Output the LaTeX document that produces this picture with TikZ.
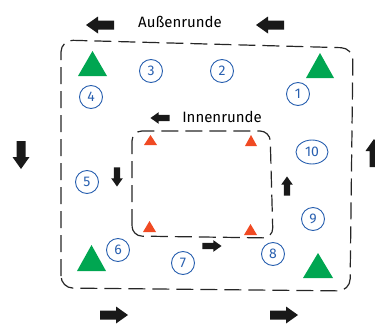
\documentclass[tikz,border=0pt]{standalone}
\usepackage{fontspec}
\setmainfont{Fira Sans}
\usetikzlibrary{shapes.geometric}
\definecolor{stblue}{RGB}{40,95,175}
\definecolor{stgreen}{RGB}{0,166,81}
\definecolor{stred}{RGB}{240,74,35}
\begin{document}
\begin{tikzpicture}[x=1pt,y=-1pt,
  route/.style={draw=black!85,line width=1.2pt,dash pattern=on 17pt off 7pt,rounded corners=12pt},
  bigtri/.style={fill=stgreen},
  smalltri/.style={fill=stred},
  num/.style={circle,draw=stblue,line width=0.9pt,text=stblue,minimum size=23pt,inner sep=0pt,font=\fontsize{14}{14}\selectfont},
  lbl/.style={font=\fontsize{15}{15}\selectfont,inner sep=0pt},
  barrow/.pic={\fill[black!90] (-14,-4.5) -- (2,-4.5) -- (2,-8.5) -- (14,0) -- (2,8.5) -- (2,4.5) -- (-14,4.5) -- cycle;}
]
\useasboundingbox (0,0) rectangle (375,324);
% routes
\draw[route] (61,288) -- (61,40) -- (353,48) -- (350,291) -- cycle;
\draw[route,rounded corners=10pt] (132,236) -- (132,131) -- (270,131) -- (273,238) -- cycle;
% green triangles
\fill[bigtri] (78,76) -- (107,76) -- (92.5,51) -- cycle;
\fill[bigtri] (306,78) -- (334,78) -- (320,53) -- cycle;
\fill[bigtri] (77,271) -- (106,271) -- (91.5,245) -- cycle;
\fill[bigtri] (303,278) -- (333,278) -- (318,253) -- cycle;
% red triangles
\fill[smalltri] (144,145) -- (157,145) -- (150.5,135) -- cycle;
\fill[smalltri] (245,146) -- (257,146) -- (251,135) -- cycle;
\fill[smalltri] (143,232) -- (156,232) -- (149.5,221) -- cycle;
\fill[smalltri] (244,235) -- (257,235) -- (250.5,224) -- cycle;
% numbered stations
\node[num] (n1) at (298,94) {1};
\node[num] (n2) at (222,71) {2};
\node[num] (n3) at (151,71) {3};
\node[num] (n4) at (91,97) {4};
\node[num] (n5) at (87,182) {5};
\node[num] (n6) at (118,250) {6};
\node[num] (n7) at (183,263) {7};
\node[num] (n8) at (273,254) {8};
\node[num] (n9) at (313,219) {9};
\node[num,ellipse,minimum width=32pt,minimum height=24pt] (n10) at (312,152) {10};
% labels
\node[lbl] (aussen) at (180,22) {Außenrunde};
\node[lbl] (innen) at (222,117) {Innenrunde};
% outer arrows
\pic[rotate=180] at (100,25) {barrow};
\pic[rotate=180] at (270,25) {barrow};
\pic[rotate=-90] at (21,155) {barrow};
\pic[rotate=90] at (374,153) {barrow};
\pic at (114,315) {barrow};
\pic at (284,315) {barrow};
% inner arrows
\pic[rotate=180,scale=0.68] at (160,118) {barrow};
\pic[rotate=-90,scale=0.68] at (117,177) {barrow};
\pic[rotate=90,scale=0.68] at (287,186) {barrow};
\pic[scale=0.68] at (212,246) {barrow};
\end{tikzpicture}
\end{document}
